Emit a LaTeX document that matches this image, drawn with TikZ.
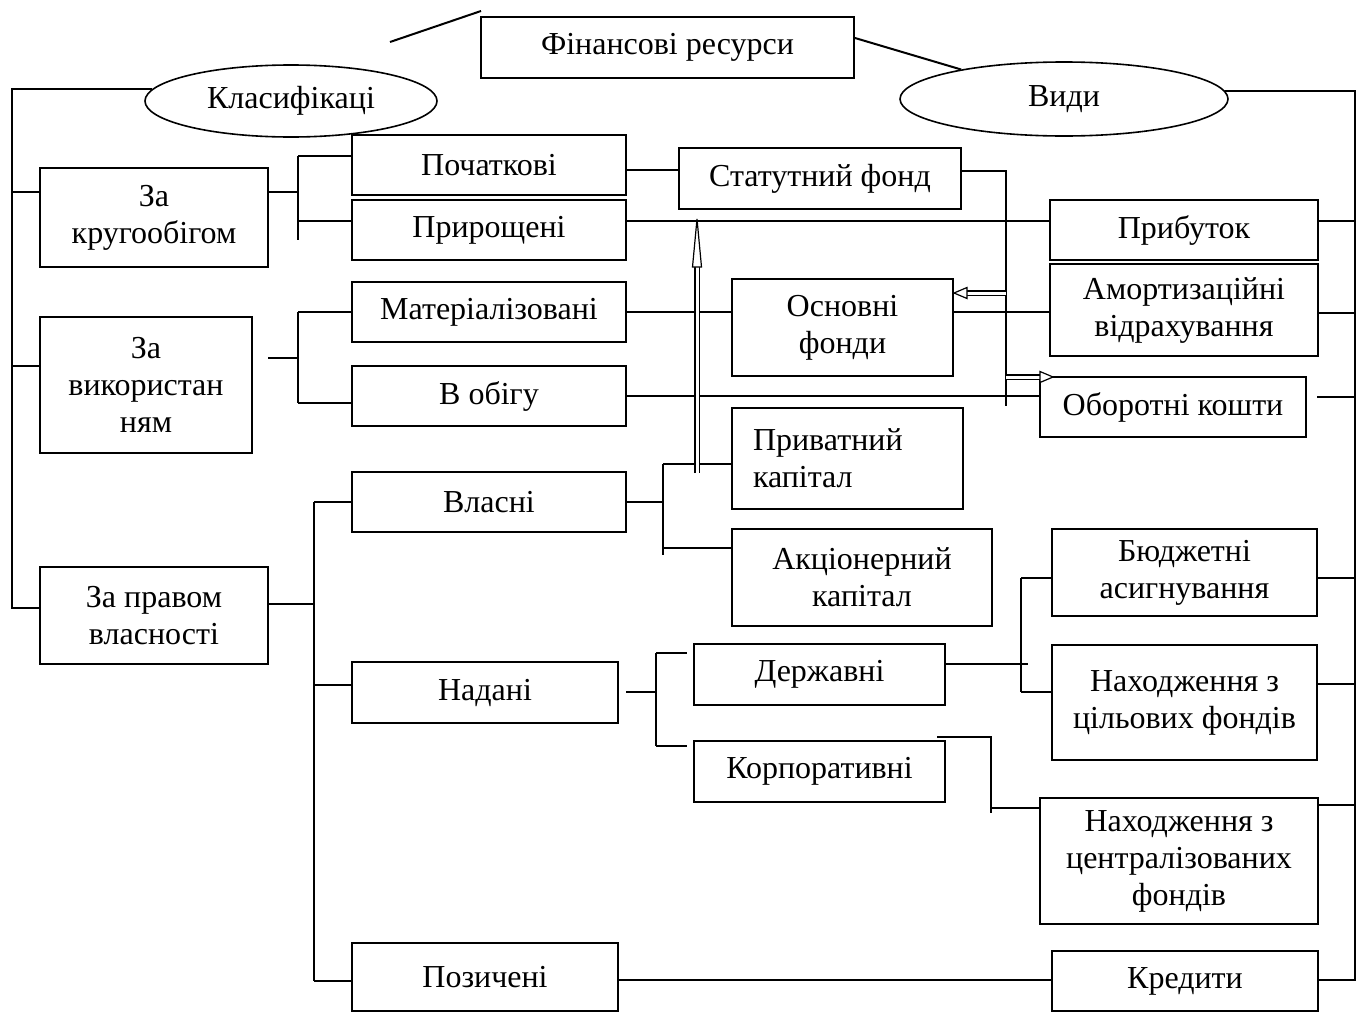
\documentclass[tikz,border=0pt]{standalone}
\usepackage{fontspec}
\setmainfont{Liberation Serif}
\usetikzlibrary{shapes.geometric}
\begin{document}
\begin{tikzpicture}[x=1pt,y=-1pt,
  every node/.style={font=\fontsize{32}{37}\selectfont},
  box/.style={draw, line width=2pt, inner sep=0pt, align=center},
  oval/.style={draw, ellipse, line width=1.6pt, inner sep=0pt},
  conn/.style={line width=2pt},
  dbl/.style={double, double distance=3pt, line width=1.2pt},
  head/.style={line width=1.2pt, fill=white, line join=miter}]
\useasboundingbox (0,0) rectangle (1359,1012);

% --- top: title and the two ovals
\node[box, minimum width=373pt, minimum height=61pt] (fin) at (667.5,47.5) {Фінансові ресурси};
\node[oval, minimum width=292pt, minimum height=72pt] (klas) at (291,101) {Класифікаці};
\node[oval, minimum width=328pt, minimum height=74pt] (vydy) at (1064,99) {Види};

% --- classification groups
\node[box, minimum width=228pt, minimum height=99pt] (zakrug) at (154,217.5) {За\\кругообігом};
\node[box, minimum width=212pt, minimum height=136pt] (zavyk) at (146,385) {За\\використан\\ням};
\node[box, minimum width=228pt, minimum height=97pt] (zapravo) at (154,615.5) {За правом\\власності};

% --- second column
\node[box, minimum width=274pt, minimum height=60pt] (poch) at (489,165) {Початкові};
\node[box, minimum width=274pt, minimum height=60pt] (pryr) at (489,230) {Прирощені};
\node[box, minimum width=274pt, minimum height=60pt] (mat) at (489,312) {Матеріалізовані};
\node[box, minimum width=274pt, minimum height=60pt] (obig) at (489,396) {В обігу};
\node[box, minimum width=274pt, minimum height=60pt] (vlasni) at (489,502) {Власні};
\node[box, minimum width=266pt, minimum height=61pt] (nadani) at (485,692.5) {Надані};
\node[box, minimum width=266pt, minimum height=68pt] (pozych) at (485,977) {Позичені};

% --- middle column
\node[box, minimum width=282pt, minimum height=61pt] (statut) at (820,178.5) {Статутний фонд};
\node[box, minimum width=221pt, minimum height=97pt] (osnovni) at (842.5,327.5) {Основні\\фонди};
\node[box, text width=189pt, inner xsep=21pt, align=left, minimum height=101pt] (pryvat) at (847.5,458.5) {Приватний\\капітал};
\node[box, minimum width=260pt, minimum height=97pt] (akcion) at (862,577.5) {Акціонерний\\капітал};
\node[box, minimum width=251pt, minimum height=61pt] (derzh) at (819.5,674.5) {Державні};
\node[box, minimum width=251pt, minimum height=61pt] (korp) at (819.5,771.5) {Корпоративні};

% --- right column (kinds)
\node[box, minimum width=268pt, minimum height=60pt] (prybut) at (1184,230) {Прибуток};
\node[box, minimum width=268pt, minimum height=92pt] (amort) at (1184,310) {Амортизаційні\\відрахування};
\node[box, minimum width=266pt, minimum height=60pt] (oborot) at (1173,407) {Оборотні кошти};
\node[box, minimum width=265pt, minimum height=87pt] (budzh) at (1184.5,572.5) {Бюджетні\\асигнування};
\node[box, minimum width=265pt, minimum height=115pt] (tsil) at (1184.5,702.5) {Находження з\\цільових фондів};
\node[box, minimum width=278pt, minimum height=126pt] (tsentr) at (1179,861) {Находження з\\централізованих\\фондів};
\node[box, minimum width=266pt, minimum height=60pt] (kredyt) at (1185,981) {Кредити};

% --- loose strokes beside the title
\coordinate (dl1) at (390,42);
\coordinate (dl2) at (481,11);
\draw[conn] (dl1) -- (dl2);
\draw[conn] (fin.east |- 0,38) -- (vydy.164);

% --- left bus: classification
\draw[conn] (klas.175) -| (12,608) -- (zapravo.west |- 0,608);
\draw[conn] (12,192) -- (zakrug.west |- 0,192);
\draw[conn] (12,366) -- (zavyk.west |- 0,366);

% by circulation
\draw[conn] (zakrug.east |- 0,192) -- (298,192);
\draw[conn] (298,156) -- (298,240);
\draw[conn] (298,156) -- (poch.west |- 0,156);
\draw[conn] (298,221) -- (pryr.west |- 0,221);

% by usage
\draw[conn] (268,358) -- (298,358);
\draw[conn] (298,312) -- (298,403);
\draw[conn] (298,312) -- (mat.west |- 0,312);
\draw[conn] (298,403) -- (obig.west |- 0,403);

% by ownership
\draw[conn] (zapravo.east |- 0,604) -- (314,604);
\draw[conn] (314,502) -- (314,981);
\draw[conn] (314,502) -- (vlasni.west);
\draw[conn] (314,685) -- (nadani.west |- 0,685);
\draw[conn] (314,981) -- (pozych.west |- 0,981);

% own funds
\draw[conn] (vlasni.east) -- (663,502);
\draw[conn] (663,464) -- (663,555);
\draw[conn] (663,464) -- (pryvat.west |- 0,464);
\draw[conn] (663,548) -- (akcion.west |- 0,548);

% provided funds
\draw[conn] (626,692) -- (656,692);
\draw[conn] (656,653) -- (656,746);
\draw[conn] (656,653) -- (687,653);
\draw[conn] (656,746) -- (687,746);
\draw[conn] (derzh.east |- 0,664) -- (1028,664);
\draw[conn] (1021,578) -- (1021,692);
\draw[conn] (1021,578) -- (budzh.west |- 0,578);
\draw[conn] (1021,692) -- (tsil.west |- 0,692);
\draw[conn] (937,737) -- (991,737) -- (991,813);
\draw[conn] (991,808) -- (tsentr.west |- 0,808);

% horizontal links across the middle
\draw[conn] (poch.east |- 0,170) -- (statut.west |- 0,170);
\draw[conn] (statut.east |- 0,171) -- (1006,171) -- (1006,406);
\draw[conn] (pryr.east |- 0,221) -- (prybut.west |- 0,221);
\draw[conn] (mat.east) -- (osnovni.west |- 0,312);
\draw[conn] (osnovni.east |- 0,312) -- (amort.west |- 0,312);
\draw[conn] (obig.east |- 0,396) -- (oborot.west |- 0,396);
\draw[conn] (pozych.east |- 0,980) -- (kredyt.west |- 0,980);

% hollow double arrows
\coordinate (upBase) at (697,473);
\coordinate (upTip) at (statut.south -| 697,0);
\draw[dbl] (upBase) -- (697,267);
\draw[head] (692.5,267) -- ([yshift=-9pt]upTip) -- (701.5,267) -- cycle;

\coordinate (osTail) at (1006,293);
\draw[dbl] (osTail) -- (967,293);
\draw[head] (967,287.5) -- (osnovni.east |- 0,293) -- (967,298.5) -- cycle;

\coordinate (obTail) at (1006,377);
\coordinate (obTip) at (1053,377);
\draw[dbl] (obTail) -- (1040,377);
\draw[head] (1040,371.5) -- (obTip) -- (1040,382.5) -- cycle;

% --- right bus: kinds
\draw[conn] (vydy.3) -| (1355,980) -- (kredyt.east |- 0,980);
\draw[conn] (prybut.east |- 0,221) -- (1355,221);
\draw[conn] (amort.east |- 0,313) -- (1355,313);
\draw[conn] (1317,397) -- (1355,397);
\draw[conn] (budzh.east |- 0,578) -- (1355,578);
\draw[conn] (tsil.east |- 0,684) -- (1355,684);
\draw[conn] (tsentr.east |- 0,805) -- (1355,805);
\end{tikzpicture}
\end{document}
